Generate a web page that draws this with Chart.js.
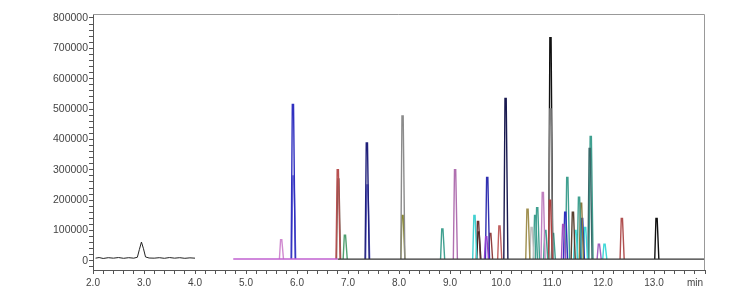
<!DOCTYPE html>
<html>
<head>
<meta charset="utf-8">
<script src="https://cdn.jsdelivr.net/npm/chart.js@4"></script>
<style>
  html, body { margin: 0; padding: 0; background: #fff; }
  #wrap { width: 756px; height: 299px; }
</style>
</head>
<body>
<div id="wrap"><canvas id="chrom"></canvas></div>
<script>
// first segment (2.0 - 4.0 min), noisy trace with one peak
const seg1Times = [2.05, 2.12, 2.2, 2.3, 2.4, 2.5, 2.6, 2.7, 2.8, 2.87, 2.91, 2.95, 2.99, 3.03, 3.1, 3.2, 3.3, 3.4, 3.5, 3.6, 3.7, 3.8, 3.9, 4.0];
const seg1Values = [9000, 11000, 8000, 10500, 9000, 11000, 8500, 10500, 9000, 12000, 38000, 62000, 40000, 13000, 9500, 9000, 10500, 8500, 11000, 9000, 10500, 8500, 10000, 9000];

// second segment baseline (4.75 - 14.0 min)
const baseTimes = [4.75, 6.8, 14.0];
const baseLevel = 6000;

// peak apex times (min) and heights
const peakTimes = [5.69, 5.92, 5.93, 6.80, 6.81, 6.94, 7.37, 7.38, 8.07, 8.07,
  8.85, 9.10, 9.48, 9.55, 9.56, 9.71, 9.73, 9.79, 9.97, 10.09,
  10.52, 10.60, 10.67, 10.71, 10.82, 10.87, 10.96, 10.97, 10.97, 11.02,
  11.22, 11.26, 11.30, 11.41, 11.46, 11.53, 11.57, 11.59, 11.65, 11.74,
  11.76, 11.92, 12.03, 12.37, 13.05];
const peakHeights = [70000, 515000, 280000, 300000, 270000, 85000, 388000, 250000, 477000, 150000,
  105000, 300000, 150000, 130000, 95000, 80000, 275000, 90000, 115000, 535000,
  170000, 110000, 150000, 175000, 225000, 100000, 200000, 500000, 735000, 90000,
  120000, 160000, 275000, 160000, 100000, 210000, 190000, 140000, 110000, 370000,
  410000, 55000, 55000, 140000, 140000];
const peakColors = ['#d08ad0', '#3030c0', '#7070d8', '#b85050', '#7a5a50', '#50a070', '#20207a', '#6a6ad0', '#8c8c8c', '#8a8a30',
  '#40a090', '#b070b0', '#40d0d0', '#6a3030', '#222222', '#9040d0', '#3030b0', '#904040', '#c06060', '#1a1a50',
  '#a09050', '#c0c0c0', '#40a090', '#40a090', '#c080c0', '#40a090', '#b04040', '#808080', '#111111', '#40a090',
  '#a050c0', '#3030c0', '#40a090', '#5a4030', '#40d8d8', '#40a090', '#8a7a40', '#2030b0', '#40d8d8', '#3a6a6a',
  '#40a090', '#a060c0', '#40d8d8', '#b05050', '#111111'];

const xTickLabels = ['2.0', '3.0', '4.0', '5.0', '6.0', '7.0', '8.0', '9.0', '10.0', '11.0', '12.0', '13.0'];
const yTickLabels = ['0', '100000', '200000', '300000', '400000', '500000', '600000', '700000', '800000'];

const datasets = [];
datasets.push({
  data: seg1Times.map((t, i) => ({ x: t, y: seg1Values[i] })),
  borderColor: '#222', borderWidth: 1
});
datasets.push({
  data: [{ x: baseTimes[0], y: baseLevel }, { x: baseTimes[1], y: baseLevel }],
  borderColor: '#c060d0', borderWidth: 1.5
});
datasets.push({
  data: [{ x: baseTimes[1], y: baseLevel }, { x: baseTimes[2], y: baseLevel }],
  borderColor: '#333', borderWidth: 1.2
});
peakTimes.forEach((t, i) => {
  datasets.push({
    data: [
      { x: t - 0.035, y: baseLevel },
      { x: t - 0.012, y: peakHeights[i] },
      { x: t + 0.012, y: peakHeights[i] },
      { x: t + 0.045, y: baseLevel }
    ],
    borderColor: peakColors[i], borderWidth: 1.4
  });
});

// grey box on top and right + "min" unit label
const framePlugin = {
  id: 'frame',
  afterDraw(chart) {
    const a = chart.chartArea, c = chart.ctx;
    c.save();
    c.strokeStyle = '#999';
    c.lineWidth = 1;
    c.beginPath();
    c.moveTo(a.left, a.top + 0.5);
    c.lineTo(a.right - 0.5, a.top + 0.5);
    c.lineTo(a.right - 0.5, a.bottom);
    c.stroke();
    c.fillStyle = '#444';
    c.font = '10px "Liberation Sans", Arial, sans-serif';
    c.textAlign = 'center';
    c.textBaseline = 'top';
    c.fillText('min', a.right - 10, a.bottom + 8);
    c.restore();
  }
};

const ctx = document.getElementById('chrom').getContext('2d');
new Chart(ctx, {
  type: 'line',
  data: { datasets: datasets },
  plugins: [framePlugin],
  options: {
    responsive: true,
    maintainAspectRatio: false,
    animation: false,
    layout: { padding: { top: 14, right: 51, left: 0, bottom: 0 } },
    elements: { point: { radius: 0 }, line: { tension: 0 } },
    plugins: { legend: { display: false }, tooltip: { enabled: false } },
    scales: {
      x: {
        type: 'linear', min: 2, max: 14,
        afterBuildTicks(scale) {
          const t = [];
          for (let v = 0; v <= 60; v++) t.push({ value: 2 + v * 0.2 });
          scale.ticks = t;
        },
        afterFit(scale) { scale.height = 29; },
        grid: { display: true, drawOnChartArea: false, drawTicks: true, tickLength: 4, color: '#555' },
        border: { display: true, color: '#555' },
        ticks: {
          autoSkip: false, maxRotation: 0, padding: 3, color: '#444',
          font: { size: 10, family: '"Liberation Sans", Arial, sans-serif' },
          callback(v) {
            const k = Math.round((v - 2) * 5);
            return k % 5 === 0 && k / 5 < xTickLabels.length ? xTickLabels[k / 5] : '';
          }
        }
      },
      y: {
        min: -30000, max: 813000,
        afterBuildTicks(scale) {
          const t = [];
          for (let v = -1; v <= 40; v++) t.push({ value: v * 20000 });
          scale.ticks = t;
        },
        afterFit(scale) { scale.width = 93; },
        grid: { display: true, drawOnChartArea: false, drawTicks: true, tickLength: 4, color: '#555' },
        border: { display: true, color: '#555' },
        ticks: {
          autoSkip: false, padding: 1, color: '#444',
          font: { size: 10.5, family: '"Liberation Sans", Arial, sans-serif' },
          callback(v) {
            return v >= 0 && v % 100000 === 0 ? yTickLabels[v / 100000] : '';
          }
        }
      }
    }
  }
});
</script>
</body>
</html>
